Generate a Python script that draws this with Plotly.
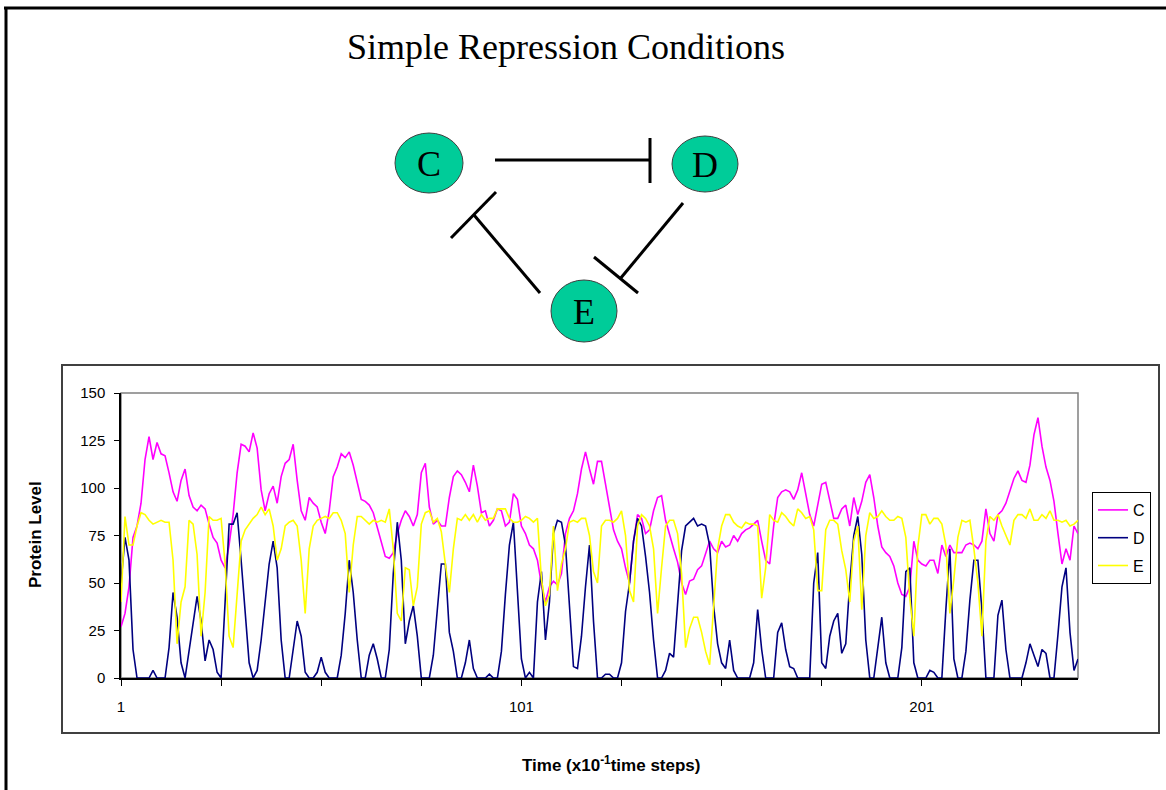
import plotly.graph_objects as go

# Time axis: 240 sampled steps
time_steps = list(range(1, 241))

protein_c = [
    27, 34, 48, 74, 80, 92, 115, 127, 115, 124,
    118, 117, 108, 98, 93, 104, 110, 96, 90, 88,
    91, 89, 81, 74, 71, 62, 58, 70, 86, 108,
    123, 122, 119, 129, 121, 99, 88, 97, 101, 92,
    106, 113, 115, 123, 104, 88, 83, 95, 92, 90,
    82, 76, 88, 106, 111, 118, 116, 119, 112, 103,
    94, 93, 91, 87, 79, 71, 64, 63, 66, 76,
    83, 88, 85, 80, 86, 108, 113, 90, 81, 83,
    80, 80, 95, 106, 109, 107, 103, 98, 112, 101,
    87, 88, 80, 83, 89, 88, 80, 82, 97, 94,
    80, 76, 70, 68, 62, 49, 40, 48, 51, 49,
    55, 76, 84, 88, 97, 110, 119, 110, 102, 114,
    114, 102, 90, 78, 72, 68, 58, 50, 72, 86,
    84, 76, 78, 88, 95, 96, 83, 75, 68, 61,
    50, 44, 51, 52, 57, 59, 66, 72, 68, 66,
    72, 69, 70, 75, 72, 76, 78, 79, 81, 83,
    72, 62, 60, 80, 95, 98, 99, 98, 94, 99,
    108, 96, 86, 80, 92, 102, 103, 93, 84, 84,
    89, 91, 80, 95, 86, 93, 103, 107, 95, 80,
    69, 66, 64, 59, 50, 44, 43, 48, 72, 62,
    60, 59, 62, 62, 55, 70, 64, 70, 66, 66,
    66, 70, 71, 70, 68, 72, 89, 76, 72, 86,
    88, 92, 99, 105, 109, 104, 103, 112, 128, 137,
    122, 111, 104, 93, 76, 60, 68, 62, 80, 76,
]

protein_d = [
    50, 74, 62, 15, 0, 0, 0, 0, 4, 0,
    0, 0, 16, 45, 32, 8, 0, 15, 30, 43,
    30, 9, 20, 15, 3, 0, 40, 81, 81, 87,
    62, 33, 8, 0, 4, 20, 40, 60, 72, 58,
    20, 0, 0, 14, 30, 22, 3, 0, 0, 3,
    11, 3, 0, 0, 0, 12, 34, 62, 45, 20,
    0, 0, 12, 18, 10, 0, 0, 15, 55, 82,
    62, 18, 30, 38, 22, 0, 0, 0, 12, 34,
    60, 60, 24, 14, 0, 0, 8, 20, 5, 0,
    0, 0, 2, 0, 0, 14, 44, 70, 82, 48,
    10, 0, 3, 0, 40, 56, 20, 40, 76, 83,
    82, 70, 35, 6, 5, 22, 48, 70, 30, 0,
    0, 2, 2, 0, 0, 8, 35, 50, 72, 84,
    80, 64, 45, 20, 0, 0, 4, 13, 11, 40,
    67, 80, 82, 84, 80, 81, 80, 70, 38, 18,
    8, 5, 20, 4, 0, 0, 0, 0, 8, 36,
    15, 0, 0, 0, 24, 29, 15, 6, 5, 0,
    0, 0, 0, 50, 66, 8, 5, 22, 30, 34,
    13, 18, 50, 75, 85, 65, 20, 0, 0, 16,
    32, 8, 0, 0, 0, 16, 56, 58, 8, 0,
    0, 0, 4, 3, 0, 0, 36, 68, 10, 0,
    0, 14, 41, 62, 62, 36, 0, 0, 0, 33,
    41, 15, 0, 0, 0, 0, 8, 18, 12, 6,
    15, 13, 0, 0, 23, 48, 58, 24, 4, 10,
]

protein_e = [
    40, 85, 70, 70, 80, 87, 86, 83, 81, 82,
    83, 82, 82, 62, 18, 40, 48, 83, 81, 65,
    22, 45, 85, 83, 83, 84, 60, 22, 16, 44,
    72, 78, 81, 84, 86, 90, 86, 89, 80, 62,
    68, 80, 82, 83, 80, 62, 34, 68, 80, 83,
    84, 85, 84, 87, 87, 83, 76, 45, 70, 85,
    85, 83, 81, 83, 82, 83, 82, 89, 68, 34,
    30, 58, 57, 38, 48, 81, 87, 88, 82, 84,
    77, 60, 45, 68, 84, 83, 86, 83, 86, 82,
    86, 83, 84, 84, 89, 89, 89, 84, 82, 82,
    83, 85, 84, 82, 84, 52, 38, 44, 80, 46,
    60, 68, 82, 83, 82, 84, 84, 75, 56, 50,
    80, 83, 83, 82, 84, 88, 75, 46, 40, 80,
    86, 84, 80, 68, 34, 58, 80, 83, 83, 76,
    55, 16, 26, 32, 32, 24, 14, 7, 40, 68,
    80, 86, 86, 82, 80, 79, 82, 81, 81, 80,
    42, 58, 86, 83, 82, 87, 85, 82, 80, 89,
    87, 84, 85, 78, 46, 46, 78, 83, 83, 81,
    67, 57, 40, 72, 80, 36, 75, 87, 84, 85,
    88, 85, 83, 83, 85, 84, 74, 42, 22, 69,
    86, 86, 81, 84, 84, 81, 70, 34, 52, 74,
    83, 82, 83, 68, 50, 22, 72, 85, 83, 86,
    80, 75, 70, 83, 86, 86, 84, 89, 83, 83,
    86, 84, 88, 83, 83, 82, 83, 80, 81, 83,
]

series_names = ["C", "D", "E"]
series_colors = ["#FF00FF", "#000080", "#FFFF00"]

x_tick_values = list(range(1, 241, 25))
x_tick_labels = ["1", " ", " ", " ", "101", " ", " ", " ", "201", " "]
y_tick_values = [0, 25, 50, 75, 100, 125, 150]

W, H = 1166, 790
PL, PR, PT, PB = 121, 1078, 393, 678


def fx(x):
    return (x - PL) / (PR - PL)


def fy(y):
    return (PB - y) / (PB - PT)


fig = go.Figure()
for name, vals, col in zip(series_names, [protein_c, protein_d, protein_e], series_colors):
    fig.add_trace(go.Scatter(
        x=time_steps, y=vals, mode="lines", name=name,
        legendgroup=name,
        line=dict(color=col, width=1.6),
    ))

shapes = []
# outer frame: top and left rules
shapes.append(dict(type="line", xref="paper", yref="paper",
                   x0=fx(4), x1=fx(1166), y0=fy(8), y1=fy(8),
                   line=dict(color="black", width=3), layer="below"))
shapes.append(dict(type="line", xref="paper", yref="paper",
                   x0=fx(6), x1=fx(6), y0=fy(7), y1=fy(792),
                   line=dict(color="black", width=3), layer="below"))
# chart box
shapes.append(dict(type="rect", xref="paper", yref="paper",
                   x0=fx(62), x1=fx(1159), y0=fy(365), y1=fy(733),
                   line=dict(color="#404040", width=2), fillcolor="white", layer="below"))
# plot area border (top/right in gray)
shapes.append(dict(type="rect", xref="paper", yref="paper",
                   x0=0, x1=1, y0=0, y1=1,
                   line=dict(color="#808080", width=1.5), layer="below"))

# repression network: C -| D, D -| E, E -| C
net_lines = [
    (495, 160, 650, 160), (650, 138, 650, 183),
    (540, 293, 474, 215), (451, 238, 496, 192),
    (683, 203, 620, 279), (594, 257, 638, 293),
]
for x0, y0, x1, y1 in net_lines:
    shapes.append(dict(type="line", xref="paper", yref="paper",
                       x0=fx(x0), y0=fy(y0), x1=fx(x1), y1=fy(y1),
                       line=dict(color="black", width=3)))

nodes = [("C", 429, 163, 34, 30), ("D", 705, 164, 33, 28), ("E", 584, 311, 33, 31)]
annotations = []
for label, cx, cy, rx, ry in nodes:
    shapes.append(dict(type="circle", xref="paper", yref="paper",
                       x0=fx(cx - rx), x1=fx(cx + rx), y0=fy(cy + ry), y1=fy(cy - ry),
                       fillcolor="#00CC99", line=dict(color="#404040", width=1)))
    annotations.append(dict(text=label, xref="paper", yref="paper",
                            x=fx(cx), y=fy(cy + 1), showarrow=False,
                            xanchor="center", yanchor="middle",
                            font=dict(family="Liberation Serif, Times New Roman, serif",
                                      size=36, color="black")))

annotations.append(dict(text="Simple Repression Conditions", xref="paper", yref="paper",
                        x=fx(566), y=fy(47), showarrow=False,
                        xanchor="center", yanchor="middle",
                        font=dict(family="Liberation Serif, Times New Roman, serif",
                                  size=36, color="black")))
annotations.append(dict(text="<b>Protein Level</b>", xref="paper", yref="paper",
                        x=fx(35), y=fy(535), showarrow=False, textangle=-90,
                        xanchor="center", yanchor="middle",
                        font=dict(family="Liberation Sans, Arial, sans-serif",
                                  size=17, color="black")))
annotations.append(dict(text="<b>Time (x10<sup>-1</sup>time steps)</b>", xref="paper", yref="paper",
                        x=fx(611), y=fy(764), showarrow=False,
                        xanchor="center", yanchor="middle",
                        font=dict(family="Liberation Sans, Arial, sans-serif",
                                  size=17, color="black")))

axis_font = dict(family="Liberation Sans, Arial, sans-serif", size=15, color="black")

fig.update_layout(
    width=W, height=H,
    margin=dict(l=PL, r=W - PR, t=PT, b=H - PB, pad=0),
    paper_bgcolor="white",
    plot_bgcolor="#C0C0C0",
    showlegend=True,
    legend=dict(x=fx(1092), y=fy(492), xanchor="left", yanchor="top",
                bgcolor="white", bordercolor="black", borderwidth=1,
                font=dict(family="Liberation Sans, Arial, sans-serif", size=16, color="black"),
                tracegroupgap=4, itemwidth=30),
    shapes=shapes,
    annotations=annotations,
    xaxis=dict(range=[1, 240], tickmode="array", tickvals=x_tick_values,
               ticktext=x_tick_labels, ticks="outside", ticklen=6, tickcolor="black",
               showline=True, linecolor="black", linewidth=1.5,
               showgrid=False, zeroline=False, tickfont=axis_font,
               ticklabelstandoff=8),
    yaxis=dict(range=[0, 150], tickmode="array", tickvals=y_tick_values,
               ticks="outside", ticklen=5, tickcolor="black",
               showline=True, linecolor="black", linewidth=1.5,
               showgrid=False, zeroline=False, tickfont=axis_font,
               ticklabelstandoff=6),
)

fig.write_html("out.html")
